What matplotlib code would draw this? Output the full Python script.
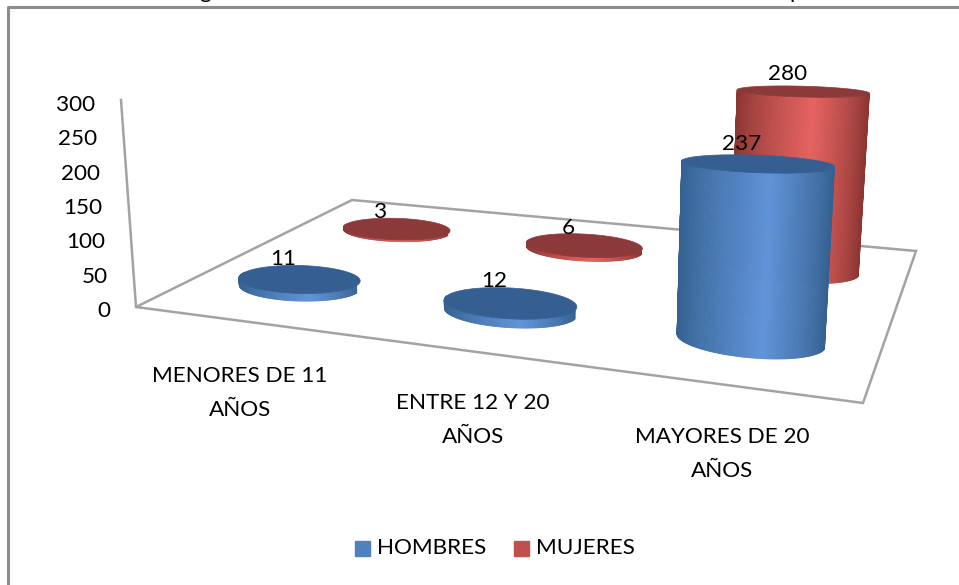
"""Excel style 3D cylinder chart, drawn on a pixel sized 2D axes with a small projection."""

import matplotlib

matplotlib.use("Agg")
import matplotlib.pyplot as plt
import numpy as np
from matplotlib.collections import PolyCollection
from matplotlib.colors import to_rgb
from matplotlib.patches import Polygon, Rectangle

plt.rcParams["font.family"] = ["Lato", "DejaVu Sans"]

categories = ["MENORES DE 11\nAÑOS", "ENTRE 12 Y 20\nAÑOS", "MAYORES DE 20\nAÑOS"]
series_names = ["HOMBRES", "MUJERES"]
hombres = [11, 12, 237]
mujeres = [3, 6, 280]
y_ticks = [0, 50, 100, 150, 200, 250, 300]

W, H = 959, 585
FLOOR = np.array([[136, 307], [863, 403], [916, 251], [352, 200]], float)
AXIS_TOP = (121, 100)
VALUE_SCALE = 0.68
RADIUS_U = 0.095
RADIUS_V = 0.10
FONT = 16.2
LINE = "#a3a3a3"
BLUE = {"edge": "#33608f", "mid": "#6093d8", "top": "#355f90", "legend": "#4f81bd"}
RED = {"edge": "#8a3533", "mid": "#e5625f", "top": "#8c3a39", "legend": "#c0504d"}


def homography(corners):
    # unit square -> floor quad
    src = [(0, 0), (1, 0), (1, 1), (0, 1)]
    rows, rhs = [], []
    for (u, v), (x, y) in zip(src, corners):
        rows.append([u, v, 1, 0, 0, 0, -u * x, -v * x])
        rows.append([0, 0, 0, u, v, 1, -u * y, -v * y])
        rhs += [x, y]
    return np.append(np.linalg.solve(np.array(rows), np.array(rhs)), 1).reshape(3, 3)


HOMO = homography(FLOOR)


def project(u, v, value=0.0):
    u, v = np.asarray(u, float), np.asarray(v, float)
    p = HOMO @ np.array([u, v, np.ones_like(u)])
    x, y = p[0] / p[2], p[1] / p[2]
    h = value * VALUE_SCALE / p[2]
    return x + 0.000185 * (x - 529) * h, y - h


def blend(c1, c2, t):
    return tuple(np.array(to_rgb(c1)) * (1 - t) + np.array(to_rgb(c2)) * t)


def cylinder(ax, cat, ser, value, colors):
    uc, vc = (cat + 0.5) / 3 + 0.004, (ser + 0.5) / 2
    theta = np.linspace(0, 2 * np.pi, 241)
    ru = RADIUS_U * np.cos(theta) + uc
    rv = RADIUS_V * np.sin(theta) + vc
    bx, by = project(ru, rv)
    tx, ty = project(ru, rv, value)
    # the top looks flatter the higher it sits
    ty = ty.mean() + (ty - ty.mean()) * (1 - 0.0009 * value)

    # only the front half of the wall is visible
    xmin, xmax = bx.min(), bx.max()
    quads, shades = [], []
    for i in range(len(theta) - 1):
        if np.sin(0.5 * (theta[i] + theta[i + 1])) > 0:
            continue
        quads.append([(bx[i], by[i]), (bx[i + 1], by[i + 1]), (tx[i + 1], ty[i + 1]), (tx[i], ty[i])])
        s = (0.5 * (bx[i] + bx[i + 1]) - xmin) / (xmax - xmin)
        t = s / 0.58 if s < 0.58 else (1 - s) / 0.42
        shades.append(blend(colors["edge"], colors["mid"], np.clip(t, 0, 1) ** 0.8))
    ax.add_collection(PolyCollection(quads, facecolors=shades, edgecolors=shades, linewidths=0.6,
                                     zorder=3 + (1 - ser)))
    ax.add_patch(Polygon(np.c_[tx, ty], closed=True, facecolor=colors["top"], edgecolor=colors["top"],
                         linewidth=0.5, zorder=3.5 + (1 - ser)))
    ax.text(tx.mean() - 16, ty.min() - value * 0.02, str(value), ha="center", va="baseline",
            fontsize=FONT, color="black", zorder=8)


fig = plt.figure(figsize=(W / 100, H / 100), dpi=100)
ax = fig.add_axes([0, 0, 1, 1])
ax.set_xlim(0, W)
ax.set_ylim(H, 0)
ax.axis("off")

# chart frame, the crop cuts its right and bottom sides
ax.plot([8, 8, W + 5], [H + 5, 6.5, 6.5], color="#8c8c8c", lw=2.2, zorder=1)

# title is cut off by the crop, only descenders remain
ax.text(205, -2, "g", fontsize=FONT, ha="center", va="baseline")
ax.text(796, -2, "p", fontsize=FONT, ha="center", va="baseline")

# floor and value wall
ax.add_patch(Polygon(FLOOR, closed=True, fill=False, edgecolor=LINE, lw=1.8, zorder=2))
ax.plot([FLOOR[0][0], AXIS_TOP[0]], [FLOOR[0][1], AXIS_TOP[1]], color=LINE, lw=1.8, zorder=2)

for tick in y_ticks:
    ax.text(110 - tick * 0.05, 311 - tick * 0.687, str(tick), ha="right", va="center", fontsize=FONT)

# back series first so the front one hides it
for i, v in enumerate(mujeres):
    cylinder(ax, i, 1, v, RED)
for i, v in enumerate(hombres):
    cylinder(ax, i, 0, v, BLUE)

for (x, y), lab in zip([(240, 393), (473, 420), (722, 454)], categories):
    ax.text(x, y, lab, ha="center", va="center", fontsize=FONT, linespacing=1.85)

# legend
ax.add_patch(Rectangle((355, 541), 15, 15, color=BLUE["legend"]))
ax.text(377, 548, series_names[0], va="center", fontsize=FONT)
ax.add_patch(Rectangle((514, 541), 15, 15, color=RED["legend"]))
ax.text(536, 548, series_names[1], va="center", fontsize=FONT)

fig.savefig("out.png", dpi=100)
plt.close(fig)
